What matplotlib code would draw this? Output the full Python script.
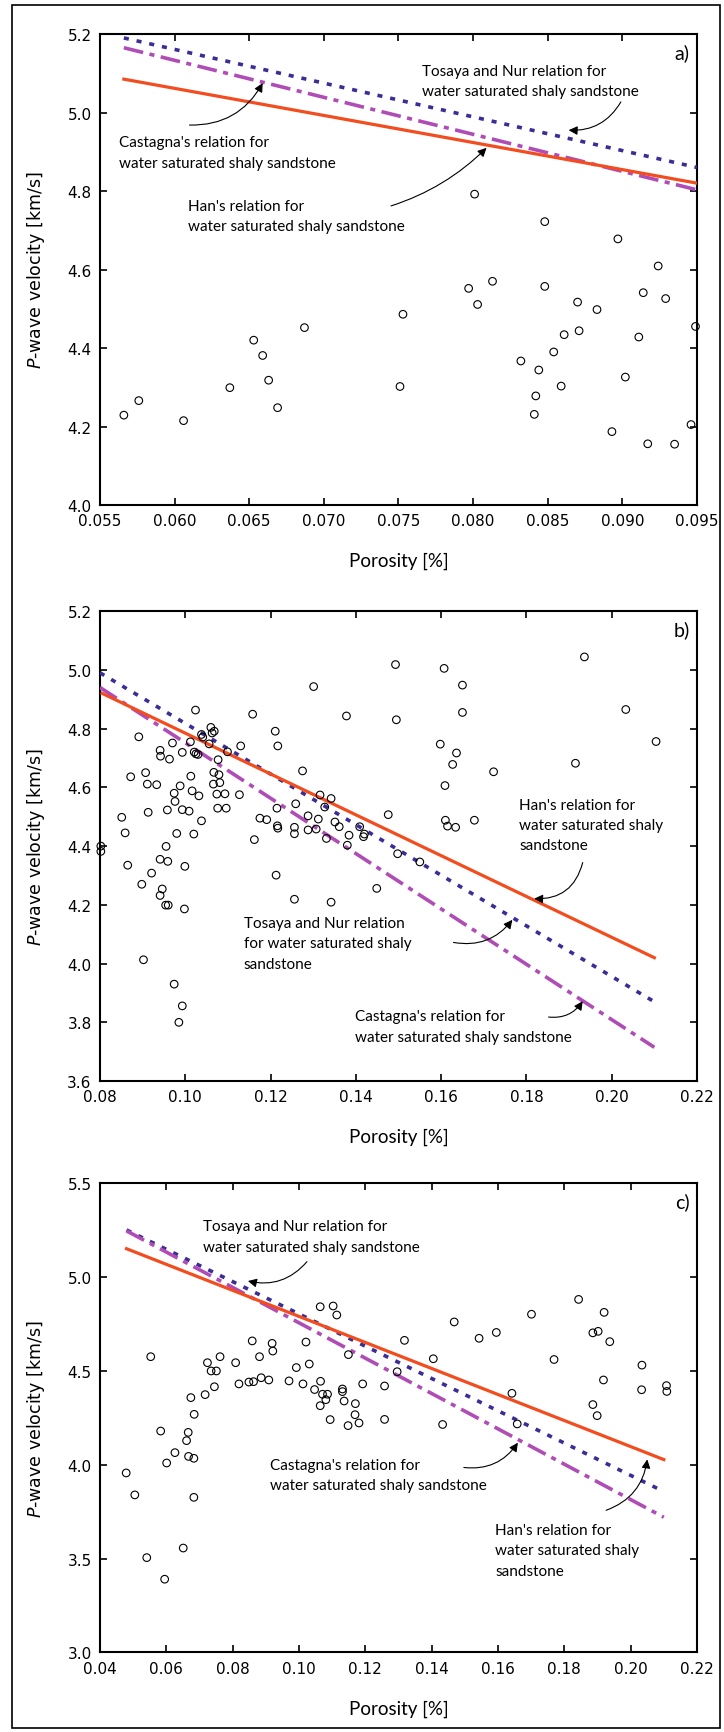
import matplotlib
matplotlib.use("Agg")
import matplotlib.pyplot as plt
from matplotlib.patches import Rectangle
from matplotlib.ticker import FormatStrFormatter

# ---------------- data ----------------
# panel a
poro_a = [0.0566, 0.0576, 0.0606, 0.0637, 0.0653, 0.0659, 0.0663, 0.0669, 0.0687,
          0.0751, 0.0753, 0.0797, 0.0801, 0.0803, 0.0813, 0.0832, 0.0841, 0.0842,
          0.0844, 0.0848, 0.0848, 0.0854, 0.0859, 0.0861, 0.0870, 0.0871, 0.0883,
          0.0893, 0.0897, 0.0902, 0.0911, 0.0914, 0.0917, 0.0924, 0.0929, 0.0935,
          0.0946, 0.0949]
vp_a = [4.229, 4.266, 4.215, 4.299, 4.420, 4.381, 4.318, 4.248, 4.452,
        4.302, 4.486, 4.552, 4.792, 4.511, 4.570, 4.367, 4.231, 4.278,
        4.344, 4.722, 4.557, 4.390, 4.303, 4.434, 4.517, 4.444, 4.498,
        4.187, 4.678, 4.326, 4.428, 4.541, 4.156, 4.609, 4.526, 4.155,
        4.205, 4.455]

# panel b
poro_b = [0.0802, 0.0802, 0.0851, 0.0859, 0.0865, 0.0872, 0.0907, 0.0911, 0.0913,
          0.0898, 0.0921, 0.0933, 0.0941, 0.0942, 0.0963, 0.0970, 0.0993, 0.0941,
          0.0959, 0.0955, 0.0946, 0.0941, 0.0954, 0.0960, 0.0998, 0.0999, 0.0980,
          0.0958, 0.0976, 0.0974, 0.0988, 0.0993, 0.1009, 0.1020, 0.1038, 0.1016,
          0.1013, 0.1032, 0.1021, 0.1025, 0.1030, 0.1056, 0.1077, 0.1067, 0.1079,
          0.1066, 0.1081, 0.1074, 0.1093, 0.1076, 0.1096, 0.1127, 0.1130, 0.1099,
          0.1162, 0.1175, 0.1191, 0.1215, 0.1217, 0.1275, 0.1213, 0.1216, 0.1217,
          0.1256, 0.1256, 0.1259, 0.1288, 0.1288, 0.1312, 0.1307, 0.1316, 0.1342,
          0.1327, 0.1331, 0.1351, 0.1361, 0.1384, 0.1380, 0.1409, 0.1418, 0.1420,
          0.1476, 0.1449, 0.1256, 0.1342, 0.0902, 0.0974, 0.0993, 0.0985,
          0.0891, 0.1024, 0.1060, 0.1068, 0.1063, 0.1038, 0.1041, 0.1012, 0.1158,
          0.1211, 0.1301, 0.1378,
          0.1493, 0.1495, 0.1498, 0.1550, 0.1607, 0.1650, 0.1650, 0.1598, 0.1636,
          0.1627, 0.1609, 0.1610, 0.1615, 0.1634, 0.1678, 0.1723, 0.1936, 0.1915,
          0.2033, 0.2104]
vp_b = [4.400, 4.382, 4.498, 4.445, 4.335, 4.636, 4.650, 4.611, 4.515,
        4.270, 4.308, 4.609, 4.726, 4.706, 4.696, 4.751, 4.719, 4.355,
        4.348, 4.399, 4.254, 4.232, 4.199, 4.199, 4.186, 4.331, 4.443,
        4.523, 4.552, 4.580, 4.605, 4.524, 4.519, 4.441, 4.486, 4.588,
        4.638, 4.571, 4.720, 4.714, 4.712, 4.748, 4.694, 4.651, 4.643,
        4.611, 4.616, 4.577, 4.578, 4.529, 4.529, 4.575, 4.741, 4.721,
        4.422, 4.495, 4.490, 4.529, 4.741, 4.656, 4.301, 4.469, 4.461,
        4.464, 4.442, 4.544, 4.503, 4.455, 4.492, 4.458, 4.574, 4.562,
        4.533, 4.426, 4.482, 4.466, 4.437, 4.403, 4.466, 4.432, 4.441,
        4.507, 4.256, 4.219, 4.209, 4.013, 3.930, 3.856, 3.800,
        4.772, 4.863, 4.804, 4.791, 4.785, 4.780, 4.771, 4.755, 4.849,
        4.791, 4.943, 4.843,
        5.018, 4.830, 4.374, 4.346, 5.005, 4.948, 4.855, 4.747, 4.717,
        4.678, 4.606, 4.488, 4.468, 4.464, 4.488, 4.653, 5.044, 4.682,
        4.865, 4.756]

# panel c
poro_c = [0.0553, 0.0479, 0.0505, 0.0541, 0.0595, 0.0583, 0.0601, 0.0626, 0.0651,
          0.0661, 0.0666, 0.0667, 0.0683, 0.0683, 0.0674, 0.0684, 0.0717, 0.0724,
          0.0735, 0.0751, 0.0745, 0.0762, 0.0809, 0.0819, 0.0849, 0.0863, 0.0859,
          0.0881, 0.0886, 0.0909, 0.0919, 0.0921, 0.0970, 0.0992, 0.1012, 0.1021,
          0.1031, 0.1047, 0.1065, 0.1071, 0.1086, 0.1081, 0.1064, 0.1094, 0.1131,
          0.1131, 0.1136, 0.1149, 0.1148, 0.1170, 0.1169, 0.1181, 0.1192, 0.1258,
          0.1258, 0.1296, 0.1318,
          0.1064, 0.1103, 0.1114, 0.1405, 0.1433, 0.1468, 0.1543, 0.1595, 0.1642,
          0.1658, 0.1701, 0.1769, 0.1843, 0.1886, 0.1902, 0.1920, 0.1937, 0.1918,
          0.1886, 0.1899, 0.2034, 0.2033, 0.2108, 0.2109]
vp_c = [4.575, 3.956, 3.839, 3.505, 3.390, 4.179, 4.009, 4.064, 3.556,
        4.128, 4.172, 4.044, 4.034, 3.826, 4.357, 4.268, 4.373, 4.543,
        4.499, 4.499, 4.415, 4.575, 4.543, 4.430, 4.440, 4.442, 4.659,
        4.575, 4.463, 4.451, 4.646, 4.605, 4.446, 4.517, 4.430, 4.653,
        4.536, 4.400, 4.444, 4.375, 4.375, 4.346, 4.314, 4.240, 4.403,
        4.389, 4.339, 4.586, 4.208, 4.325, 4.266, 4.222, 4.430, 4.419,
        4.241, 4.495, 4.662,
        4.841, 4.845, 4.797, 4.564, 4.214, 4.760, 4.673, 4.704, 4.380,
        4.217, 4.801, 4.560, 4.880, 4.702, 4.710, 4.811, 4.655, 4.451,
        4.320, 4.261, 4.530, 4.399, 4.421, 4.390]

# relation lines, end points (porosity, velocity)
han_a = ([0.0566, 0.095], [5.085, 4.820])
tosaya_a = ([0.0566, 0.095], [5.190, 4.860])
castagna_a = ([0.0566, 0.095], [5.165, 4.803])
han_b = ([0.0805, 0.21], [4.920, 4.020])
tosaya_b = ([0.08, 0.21], [4.990, 3.870])
castagna_b = ([0.08, 0.21], [4.940, 3.715])
han_c = ([0.048, 0.21], [5.150, 4.027])
tosaya_c = ([0.048, 0.21], [5.250, 3.857])
castagna_c = ([0.048, 0.21], [5.245, 3.720])

TOSAYA = "Tosaya and Nur relation for\nwater saturated shaly sandstone"
CASTAGNA = "Castagna's relation for\nwater saturated shaly sandstone"
HAN = "Han's relation for\nwater saturated shaly sandstone"
HAN3 = "Han's relation for\nwater saturated shaly\nsandstone"
TOSAYA3 = "Tosaya and Nur relation\nfor water saturated shaly\nsandstone"

ANN_FONT = "Lato"
c_han = "#f24c1f"
c_tos = "#3b2c96"
c_cas = "#b04cb6"


def setup(ax, xlim, ylim, xticks, yticks, xfmt, tag):
    ax.set_xlim(xlim)
    ax.set_ylim(ylim)
    ax.set_xticks(xticks)
    ax.set_yticks(yticks)
    ax.xaxis.set_major_formatter(FormatStrFormatter(xfmt))
    ax.yaxis.set_major_formatter(FormatStrFormatter("%.1f"))
    ax.tick_params(direction="in", top=True, right=True, length=5, width=1.2,
                   labelsize=11, pad=6)
    for s in ax.spines.values():
        s.set_linewidth(1.5)
    ax.set_xlabel("Porosity [%]", family=ANN_FONT, fontsize=13.5)
    ax.xaxis.set_label_coords(0.5, -0.1)
    ax.set_ylabel(r"$\it{P}$-wave velocity [km/s]", fontsize=12.5)
    ax.yaxis.set_label_coords(-0.088, 0.5)
    ax.text(0.988, 0.962, tag, transform=ax.transAxes, ha="right", va="center",
            family=ANN_FONT, fontsize=14)


def draw(ax, poro, vp, han, tos, cas):
    ax.plot(tos[0], tos[1], color=c_tos, lw=2.6, ls=(0, (1.4, 2.2)), zorder=3)
    ax.plot(cas[0], cas[1], color=c_cas, lw=2.6, ls=(0, (5.5, 1.8, 1.4, 1.8)), zorder=3)
    ax.plot(han[0], han[1], color=c_han, lw=2.3, zorder=4)
    ax.scatter(poro, vp, s=30, facecolors="none", edgecolors="black", linewidths=0.8,
               zorder=5, clip_on=False)


def note(ax, text, xy_text, xy_arrow, start, rad):
    ax.text(xy_text[0], xy_text[1], text, ha="left", va="center", family=ANN_FONT,
            fontsize=11, linespacing=1.58, zorder=6)
    ax.annotate("", xy=xy_arrow, xytext=start,
                arrowprops=dict(arrowstyle="-|>", color="black", lw=0.8,
                                mutation_scale=13, shrinkA=0, shrinkB=0,
                                connectionstyle="arc3,rad=%s" % rad), zorder=6)


fig = plt.figure(figsize=(7.24, 17.33), dpi=100)
fig.patches.append(Rectangle((12 / 724, 1 - 1729 / 1733), 708 / 724, 1723 / 1733,
                             transform=fig.transFigure, fill=False, lw=1.2,
                             edgecolor="black"))

# ---- a ----
ax1 = fig.add_axes([0.1381, 0.708, 0.8246, 0.2718])
draw(ax1, poro_a, vp_a, han_a, tosaya_a, castagna_a)
setup(ax1, (0.055, 0.095), (4.0, 5.2), [0.055, 0.06, 0.065, 0.07, 0.075, 0.08, 0.085, 0.09, 0.095],
      [4.0, 4.2, 4.4, 4.6, 4.8, 5.0, 5.2], "%.3f", "a)")
note(ax1, TOSAYA, (0.0766, 5.081), (0.0864, 4.955), (0.0899, 5.027), -0.3)
note(ax1, CASTAGNA, (0.0563, 4.898), (0.0659, 5.075), (0.0610, 4.968), 0.3)
note(ax1, HAN, (0.0609, 4.736), (0.0809, 4.910), (0.0745, 4.762), 0.12)

# ---- b ----
ax2 = fig.add_axes([0.1381, 0.3756, 0.8246, 0.2712])
draw(ax2, poro_b, vp_b, han_b, tosaya_b, castagna_b)
setup(ax2, (0.08, 0.22), (3.6, 5.2), [0.08, 0.10, 0.12, 0.14, 0.16, 0.18, 0.20, 0.22],
      [3.6, 3.8, 4.0, 4.2, 4.4, 4.6, 4.8, 5.0, 5.2], "%.2f", "b)")
note(ax2, HAN3, (0.1783, 4.472), (0.1818, 4.221), (0.1932, 4.344), -0.4)
note(ax2, TOSAYA3, (0.1137, 4.069), (0.1767, 4.149), (0.1629, 4.072), 0.3)
note(ax2, CASTAGNA, (0.1397, 3.786), (0.1932, 3.872), (0.1852, 3.818), 0.3)

# ---- c ----
ax3 = fig.add_axes([0.1381, 0.0459, 0.8246, 0.2709])
draw(ax3, poro_c, vp_c, han_c, tosaya_c, castagna_c)
setup(ax3, (0.04, 0.22), (3.0, 5.5), [0.04, 0.06, 0.08, 0.10, 0.12, 0.14, 0.16, 0.18, 0.20, 0.22],
      [3.0, 3.5, 4.0, 4.5, 5.0, 5.5], "%.2f", "c)")
note(ax3, TOSAYA, (0.0712, 5.215), (0.0846, 4.978), (0.1024, 5.081), -0.3)
note(ax3, CASTAGNA, (0.0913, 3.945), (0.1660, 4.117), (0.1497, 3.985), 0.3)
note(ax3, HAN3, (0.1591, 3.543), (0.2050, 4.028), (0.1926, 3.757), 0.3)

fig.savefig("out.png", dpi=100)
